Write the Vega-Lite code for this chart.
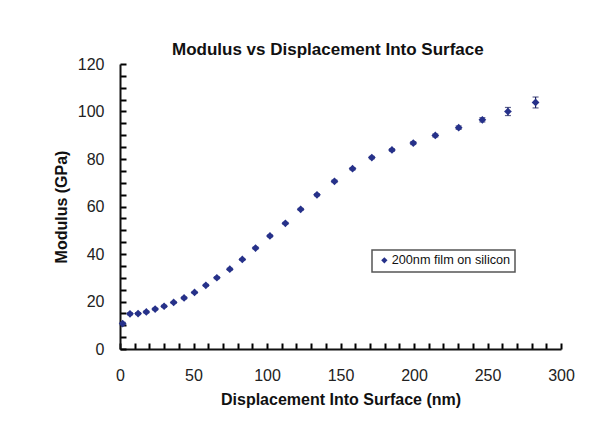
{
  "$schema": "https://vega.github.io/schema/vega-lite/v6.json",
  "width": 441,
  "height": 285,
  "autosize": "none",
  "padding": {"left": 120, "top": 64, "right": 55, "bottom": 79},
  "background": "white",
  "title": {
    "text": "Modulus vs Displacement Into Surface",
    "anchor": "start",
    "frame": "group",
    "dx": 52,
    "dy": 3,
    "offset": 0,
    "font": "Liberation Sans",
    "fontSize": 17,
    "fontWeight": "bold",
    "color": "#111111"
  },
  "data": {
    "values": [
      {"disp": 1.8, "modulus": 10.7, "err": 0.5, "series": "200nm film on silicon"},
      {"disp": 6.8, "modulus": 14.8, "err": 0.4, "series": "200nm film on silicon"},
      {"disp": 12.3, "modulus": 14.9, "err": 0.4, "series": "200nm film on silicon"},
      {"disp": 17.9, "modulus": 15.6, "err": 0.4, "series": "200nm film on silicon"},
      {"disp": 23.9, "modulus": 16.8, "err": 0.4, "series": "200nm film on silicon"},
      {"disp": 30.0, "modulus": 18.0, "err": 0.4, "series": "200nm film on silicon"},
      {"disp": 36.5, "modulus": 19.6, "err": 0.4, "series": "200nm film on silicon"},
      {"disp": 43.6, "modulus": 21.5, "err": 0.4, "series": "200nm film on silicon"},
      {"disp": 50.7, "modulus": 23.8, "err": 0.4, "series": "200nm film on silicon"},
      {"disp": 58.4, "modulus": 26.8, "err": 0.4, "series": "200nm film on silicon"},
      {"disp": 65.9, "modulus": 30.0, "err": 0.4, "series": "200nm film on silicon"},
      {"disp": 74.7, "modulus": 33.6, "err": 0.4, "series": "200nm film on silicon"},
      {"disp": 83.2, "modulus": 37.7, "err": 0.4, "series": "200nm film on silicon"},
      {"disp": 92.2, "modulus": 42.5, "err": 0.4, "series": "200nm film on silicon"},
      {"disp": 102.0, "modulus": 47.6, "err": 0.4, "series": "200nm film on silicon"},
      {"disp": 112.5, "modulus": 52.9, "err": 0.4, "series": "200nm film on silicon"},
      {"disp": 122.9, "modulus": 58.8, "err": 0.4, "series": "200nm film on silicon"},
      {"disp": 134.0, "modulus": 64.9, "err": 0.4, "series": "200nm film on silicon"},
      {"disp": 145.9, "modulus": 70.6, "err": 0.5, "series": "200nm film on silicon"},
      {"disp": 158.2, "modulus": 75.9, "err": 0.5, "series": "200nm film on silicon"},
      {"disp": 171.3, "modulus": 80.6, "err": 0.5, "series": "200nm film on silicon"},
      {"disp": 185.0, "modulus": 83.8, "err": 0.5, "series": "200nm film on silicon"},
      {"disp": 199.5, "modulus": 86.7, "err": 0.6, "series": "200nm film on silicon"},
      {"disp": 214.5, "modulus": 89.9, "err": 0.6, "series": "200nm film on silicon"},
      {"disp": 230.4, "modulus": 93.2, "err": 0.7, "series": "200nm film on silicon"},
      {"disp": 246.5, "modulus": 96.5, "err": 0.9, "series": "200nm film on silicon"},
      {"disp": 263.9, "modulus": 100.0, "err": 1.7, "series": "200nm film on silicon"},
      {"disp": 282.7, "modulus": 103.8, "err": 2.3, "series": "200nm film on silicon"}
    ]
  },
  "layer": [
    {
      "mark": {"type": "point", "opacity": 0},
      "encoding": {
        "x": {
          "field": "disp",
          "type": "quantitative",
          "scale": {"domain": [0, 300], "nice": false, "zero": true},
          "axis": {
            "orient": "bottom",
            "title": null,
            "labels": false,
            "domain": false,
            "ticks": true,
            "tickSize": 6,
            "tickWidth": 2,
            "tickColor": "#000000",
            "offset": -6,
            "values": [0,10,20,30,40,50,60,70,80,90,100,110,120,130,140,150,160,170,180,190,200,210,220,230,240,250,260,270,280,290,300]
          }
        },
        "y": {
          "field": "modulus",
          "type": "quantitative",
          "scale": {"domain": [0, 120], "nice": false},
          "axis": {
            "orient": "left",
            "title": null,
            "labels": false,
            "domain": false,
            "ticks": true,
            "tickSize": 6,
            "tickWidth": 2,
            "tickColor": "#000000",
            "offset": -6,
            "values": [0,5,10,15,20,25,30,35,40,45,50,55,60,65,70,75,80,85,90,95,100,105,110,115,120]
          }
        }
      }
    },
    {
      "mark": {"type": "errorbar", "ticks": {"size": 6, "color": "#1a1f5c", "thickness": 1.2}, "rule": {"color": "#1a1f5c", "strokeWidth": 1.2}},
      "encoding": {
        "x": {"field": "disp", "type": "quantitative", "axis": null},
        "y": {"field": "modulus", "type": "quantitative", "axis": null},
        "yError": {"field": "err"}
      }
    },
    {
      "mark": {"type": "point", "shape": "diamond", "filled": true, "size": 60, "opacity": 1},
      "encoding": {
        "x": {
          "field": "disp",
          "type": "quantitative",
          "title": "Displacement Into Surface (nm)",
          "axis": {
            "orient": "bottom",
            "values": [0,50,100,150,200,250,300],
            "labelOverlap": false,
            "ticks": false,
            "labelPadding": 18
          }
        },
        "y": {
          "field": "modulus",
          "type": "quantitative",
          "title": "Modulus (GPa)",
          "axis": {
            "orient": "left",
            "values": [0,20,40,60,80,100,120],
            "labelOverlap": false,
            "ticks": false,
            "labelPadding": 16
          }
        },
        "color": {
          "field": "series",
          "type": "nominal",
          "scale": {"range": ["#26318a"]},
          "legend": {
            "title": null,
            "orient": "none",
            "legendX": 252,
            "legendY": 186,
            "symbolType": "diamond",
            "symbolSize": 40,
            "labelFontSize": 12.7,
            "labelFont": "Liberation Sans",
            "labelColor": "#111111",
            "strokeColor": "#555555",
            "padding": 4,
            "symbolOffset": 2,
            "labelOffset": 1
          }
        }
      }
    }
  ],
  "resolve": {"axis": {"x": "independent", "y": "independent"}},
  "config": {
    "view": {"stroke": null},
    "legend": {"strokeWidth": 1.5},
    "axis": {
      "grid": false,
      "domainColor": "#111111",
      "domainWidth": 2,
      "tickColor": "#111111",
      "tickWidth": 1.5,
      "labelFont": "Liberation Sans",
      "labelFontSize": 16,
      "labelColor": "#222222",
      "titleFont": "Liberation Sans",
      "titleFontSize": 16,
      "titleFontWeight": "bold",
      "titleColor": "#111111",
      "labelFlush": false
    },
    "axisX": {"titlePadding": 8},
    "axisY": {"titlePadding": 8}
  }
}
